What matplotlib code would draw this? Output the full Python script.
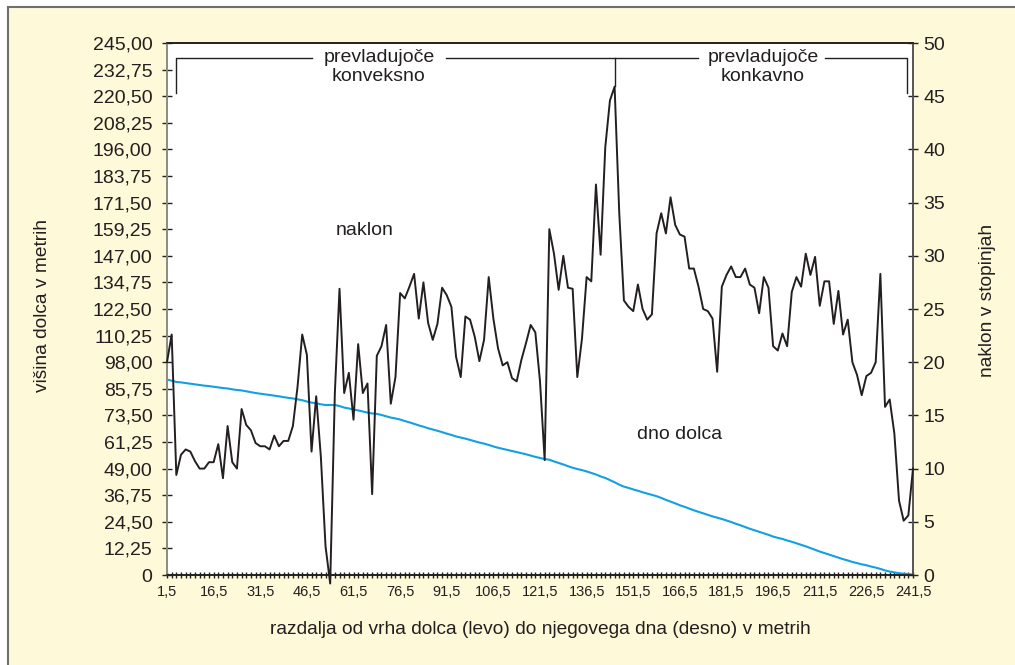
# ============================================================
# Section 1. Setup and Imports
# ============================================================

import matplotlib

matplotlib.use("Agg")

import matplotlib.pyplot as plt
import numpy as np
from matplotlib.patches import Rectangle

plt.rcParams["font.family"] = ["Liberation Sans", "DejaVu Sans"]

# ============================================================
# Section 2. Data
# ============================================================

# Distance from the top of the doline, every 1.5 m (categories).
distance = np.arange(1.5, 241.6, 1.5)

# Slope in degrees (right axis), black line.
slope = [
    20.0, 22.6, 9.4, 11.3, 11.8, 11.6, 10.7, 10.0, 10.0, 10.6,
    10.6, 12.3, 9.1, 14.0, 10.6, 10.0, 15.6, 14.1, 13.6, 12.4,
    12.1, 12.1, 11.8, 13.1, 12.1, 12.6, 12.6, 14.0, 17.7, 22.6,
    20.7, 11.6, 16.8, 11.1, 2.7, -0.8, 17.1, 26.9, 17.1, 19.0,
    14.6, 21.7, 17.1, 18.0, 7.6, 20.6, 21.5, 23.5, 16.1, 18.6,
    26.5, 26.0, 27.1, 28.3, 24.1, 27.5, 23.7, 22.1, 23.6, 27.0,
    26.3, 25.2, 20.5, 18.6, 24.3, 24.0, 22.4, 20.1, 22.1, 28.0,
    24.1, 21.3, 19.7, 20.0, 18.5, 18.2, 20.2, 21.8, 23.5, 22.8,
    18.2, 10.8, 32.5, 30.2, 26.8, 30.0, 27.0, 26.9, 18.6, 22.2,
    28.0, 27.6, 36.7, 30.1, 40.2, 44.6, 45.9, 34.0, 25.8, 25.2,
    24.8, 27.3, 25.0, 24.0, 24.5, 32.1, 34.0, 32.1, 35.5, 32.9,
    32.0, 31.8, 28.8, 28.8, 27.1, 25.0, 24.8, 24.1, 19.1, 27.1,
    28.2, 29.0, 28.0, 28.0, 28.8, 27.3, 27.0, 24.6, 28.0, 27.0,
    21.5, 21.1, 22.7, 21.5, 26.6, 28.0, 27.1, 30.2, 28.2, 29.9,
    25.3, 27.6, 27.6, 23.6, 26.7, 22.6, 24.0, 20.0, 18.8, 16.9,
    18.7, 19.0, 20.0, 28.3, 15.8, 16.5, 13.3, 7.0, 5.1, 5.6,
    10.0,
]

# Height of the doline floor in metres (left axis), blue line.
height = [
    90.0, 89.5, 88.9, 88.7, 88.4, 88.1, 87.8, 87.5, 87.2, 87.0,
    86.7, 86.4, 86.1, 85.9, 85.5, 85.2, 85.0, 84.6, 84.2, 83.8,
    83.5, 83.2, 82.9, 82.6, 82.3, 81.9, 81.6, 81.3, 80.9, 80.5,
    79.9, 79.4, 79.1, 78.6, 78.3, 78.3, 78.3, 77.8, 77.1, 76.7,
    76.2, 75.8, 75.3, 74.8, 74.4, 74.2, 73.7, 73.1, 72.5, 72.1,
    71.6, 70.9, 70.3, 69.6, 68.9, 68.3, 67.6, 67.0, 66.4, 65.8,
    65.1, 64.5, 63.8, 63.3, 62.8, 62.2, 61.6, 61.0, 60.5, 59.9,
    59.2, 58.6, 58.1, 57.6, 57.1, 56.6, 56.1, 55.6, 55.0, 54.4,
    53.9, 53.4, 53.1, 52.3, 51.6, 50.9, 50.1, 49.4, 48.8, 48.3,
    47.7, 47.0, 46.3, 45.4, 44.7, 43.7, 42.7, 41.6, 40.7, 40.1,
    39.4, 38.8, 38.1, 37.5, 36.9, 36.3, 35.5, 34.6, 33.8, 33.0,
    32.1, 31.4, 30.6, 29.8, 29.1, 28.4, 27.7, 27.0, 26.4, 25.8,
    25.1, 24.4, 23.6, 22.9, 22.1, 21.3, 20.6, 19.9, 19.2, 18.5,
    17.7, 17.1, 16.6, 15.9, 15.3, 14.6, 13.9, 13.2, 12.4, 11.6,
    10.8, 10.1, 9.4, 8.7, 8.0, 7.3, 6.7, 6.0, 5.5, 4.9,
    4.5, 3.9, 3.4, 2.8, 2.1, 1.6, 1.2, 0.8, 0.6, 0.4,
    0.2,
]

# Tick values on the axes.
left_ticks = np.arange(0, 245.01, 12.25)
right_ticks = np.arange(0, 51, 5)
x_label_ticks = distance[::10]

TEXT = "#231f20"
BLUE = "#12a0e4"
CREAM = "#fef9d8"


def comma(v, digits):
    # Slovenian decimal comma.
    if v == 0:
        return "0"
    return f"{v:.{digits}f}".replace(".", ",")


# ============================================================
# Section 3. Figure and background
# ============================================================

W, H = 1015, 665
fig = plt.figure(figsize=(W / 100, H / 100), dpi=100)
fig.patch.set_facecolor("white")

# Cream panel with a grey edge on top and left.
fig.patches.append(
    Rectangle((8 / W, 0), 1, 1 - 7 / H, transform=fig.transFigure,
              facecolor=CREAM, edgecolor="none", zorder=-10)
)
fig.lines.append(plt.Line2D([8 / W, 1], [1 - 7 / H, 1 - 7 / H],
                            transform=fig.transFigure, color="#6f6f6f",
                            lw=1.5, zorder=-9))
fig.lines.append(plt.Line2D([8 / W, 8 / W], [0, 1 - 7 / H],
                            transform=fig.transFigure, color="#6f6f6f",
                            lw=1.5, zorder=-9))

left, right, top, bottom = 167, 913, 43, 575
ax = fig.add_axes([left / W, 1 - bottom / H, (right - left) / W, (bottom - top) / H])
ax.set_facecolor("white")
ax2 = ax.twinx()

# ============================================================
# Section 4. Lines
# ============================================================

ax.plot(distance, height, color=BLUE, lw=1.5, zorder=3)
ax2.plot(distance, slope, color=TEXT, lw=1.4, zorder=4, clip_on=False)

ax.set_xlim(distance[0], distance[-1])
ax.set_ylim(0, 245)
ax2.set_ylim(0, 50)

# ============================================================
# Section 5. Axes, ticks, labels
# ============================================================

ax.set_yticks(left_ticks)
ax.set_yticklabels([comma(v, 2) for v in left_ticks])
ax2.set_yticks(right_ticks)
ax2.set_yticklabels([str(int(v)) for v in right_ticks])

ax.set_xticks(x_label_ticks)
ax.set_xticklabels([comma(v, 1) for v in x_label_ticks])
ax.set_xticks(distance, minor=True)

ax.tick_params(axis="y", direction="inout", length=7, width=1, colors=TEXT,
               labelsize=14, pad=7)
ax2.tick_params(axis="y", direction="inout", length=7, width=1, colors=TEXT,
                labelsize=14, pad=4)
ax.tick_params(axis="x", which="both", direction="inout", length=5, width=1,
               colors=TEXT, labelsize=10.5, pad=5)

for a in (ax, ax2):
    a.spines["top"].set_color(TEXT)
    a.spines["bottom"].set_color(TEXT)
    a.spines["left"].set_color("#8a8a80")
    a.spines["right"].set_color("#555555")
    for s in a.spines.values():
        s.set_linewidth(1.2)

fig.text(540 / W, 1 - 630 / H,
         "razdalja od vrha dolca (levo) do njegovega dna (desno) v metrih",
         ha="center", va="center", fontsize=13.8, color=TEXT)
fig.text(43 / W, 1 - 305 / H, "višina dolca v metrih", rotation=90,
         ha="center", va="center", fontsize=13.8, color=TEXT)
fig.text(988 / W, 1 - 300 / H, "naklon v stopinjah", rotation=90,
         ha="center", va="center", fontsize=13.8, color=TEXT)

# ============================================================
# Section 6. Annotations (brackets and labels)
# ============================================================

br_y, br_low = 48.6, 45.3
line_kw = dict(color=TEXT, lw=1.0, zorder=5)
ax2.plot([4.3, 4.3, 48.2], [br_low, br_y, br_y], **line_kw)
ax2.plot([91.3, 172.3], [br_y, br_y], **line_kw)
ax2.plot([145.5, 145.5], [br_y, 46.0], **line_kw)
ax2.plot([213.2, 239.5, 239.5], [br_y, br_y, br_low], **line_kw)

ax2.text(69.7, 49.4, "prevladujoče\nkonveksno", ha="center", va="top",
         fontsize=14, color=TEXT, linespacing=1.12)
ax2.text(193.2, 49.4, "prevladujoče\nkonkavno", ha="center", va="top",
         fontsize=14, color=TEXT, linespacing=1.12)

ax2.text(65.2, 32.4, "naklon", ha="center", va="center", fontsize=14, color=TEXT)
ax2.text(166.5, 13.2, "dno dolca", ha="center", va="center", fontsize=14, color=TEXT)

fig.savefig("out.png", dpi=100)
